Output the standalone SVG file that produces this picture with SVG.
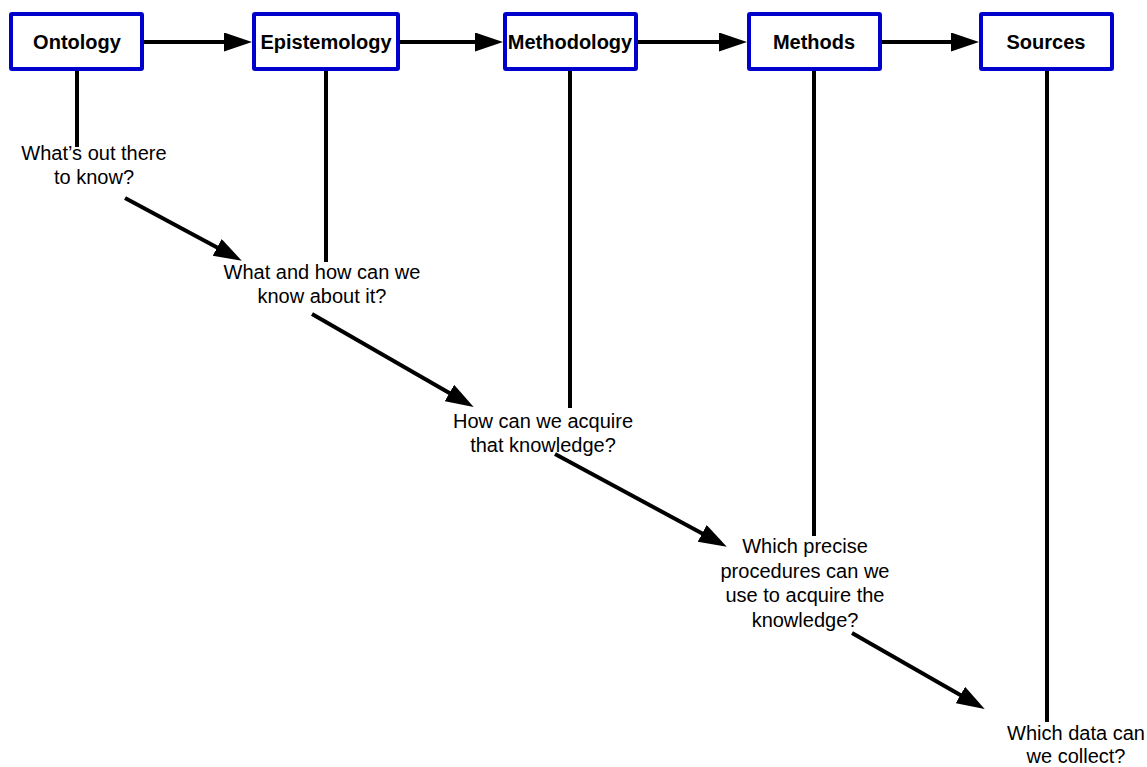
<svg xmlns="http://www.w3.org/2000/svg" width="1147" height="767" viewBox="0 0 1147 767">
  <style>
    .box { fill: #ffffff; stroke: #0000cc; stroke-width: 4; }
    .title { font-family: "Liberation Sans", Arial, sans-serif; font-size: 20px; font-weight: bold; fill: #000000; text-anchor: middle; }
    .q { font-family: "Liberation Sans", Arial, sans-serif; font-size: 20px; fill: #000000; text-anchor: middle; }
    .wire { fill: none; stroke: #000000; stroke-width: 4; }
    .arrow { marker-end: url(#head); }
  </style>
  <defs>
    <marker id="head" markerUnits="userSpaceOnUse" markerWidth="28" markerHeight="20" refX="18" refY="9.5" orient="auto">
      <path d="M0,0 L28,9.5 L0,19 Z" fill="#000000"/>
    </marker>
  </defs>
  <rect width="1147" height="767" fill="#ffffff"/>

  <g id="connectors">
    <!-- chain between the boxes -->
    <line class="wire arrow" x1="144" y1="42" x2="242" y2="42"/>
    <line class="wire arrow" x1="400" y1="42" x2="493" y2="42"/>
    <line class="wire arrow" x1="638" y1="42" x2="737" y2="42"/>
    <line class="wire arrow" x1="882" y1="42" x2="969" y2="42"/>
    <!-- drop lines from each box -->
    <line class="wire" x1="77" y1="71" x2="77" y2="147"/>
    <line class="wire" x1="326" y1="71" x2="326" y2="262"/>
    <line class="wire" x1="570" y1="71" x2="570" y2="408"/>
    <line class="wire" x1="814" y1="71" x2="814" y2="536"/>
    <line class="wire" x1="1047" y1="71" x2="1047" y2="722"/>
    <!-- diagonal steps between the questions -->
    <line class="wire arrow" x1="125" y1="198" x2="233" y2="256"/>
    <line class="wire arrow" x1="312" y1="314" x2="465" y2="402"/>
    <line class="wire arrow" x1="555" y1="454" x2="718" y2="542"/>
    <line class="wire arrow" x1="852" y1="633" x2="976" y2="704"/>
  </g>

  <g id="ontology">
    <rect class="box" x="11" y="14" width="131" height="55" rx="1"/>
    <text class="title" x="77" y="49">Ontology</text>
  </g>
  <g id="epistemology">
    <rect class="box" x="254" y="14" width="144" height="55" rx="1"/>
    <text class="title" x="326" y="49">Epistemology</text>
  </g>
  <g id="methodology">
    <rect class="box" x="505" y="14" width="131" height="55" rx="1"/>
    <text class="title" x="570" y="49">Methodology</text>
  </g>
  <g id="methods">
    <rect class="box" x="749" y="14" width="131" height="55" rx="1"/>
    <text class="title" x="814" y="49">Methods</text>
  </g>
  <g id="sources">
    <rect class="box" x="981" y="14" width="131" height="55" rx="1"/>
    <text class="title" x="1046" y="49">Sources</text>
  </g>

  <g id="q-ontology">
    <text class="q" x="94" y="160">What’s out there</text>
    <text class="q" x="94" y="184">to know?</text>
  </g>
  <g id="q-epistemology">
    <text class="q" x="322" y="279">What and how can we</text>
    <text class="q" x="322" y="303">know about it?</text>
  </g>
  <g id="q-methodology">
    <text class="q" x="543" y="428">How can we acquire</text>
    <text class="q" x="543" y="452">that knowledge?</text>
  </g>
  <g id="q-methods">
    <text class="q" x="805" y="553">Which precise</text>
    <text class="q" x="805" y="578">procedures can we</text>
    <text class="q" x="805" y="602">use to acquire the</text>
    <text class="q" x="805" y="627">knowledge?</text>
  </g>
  <g id="q-sources">
    <text class="q" x="1076" y="740">Which data can</text>
    <text class="q" x="1076" y="763">we collect?</text>
  </g>
</svg>
